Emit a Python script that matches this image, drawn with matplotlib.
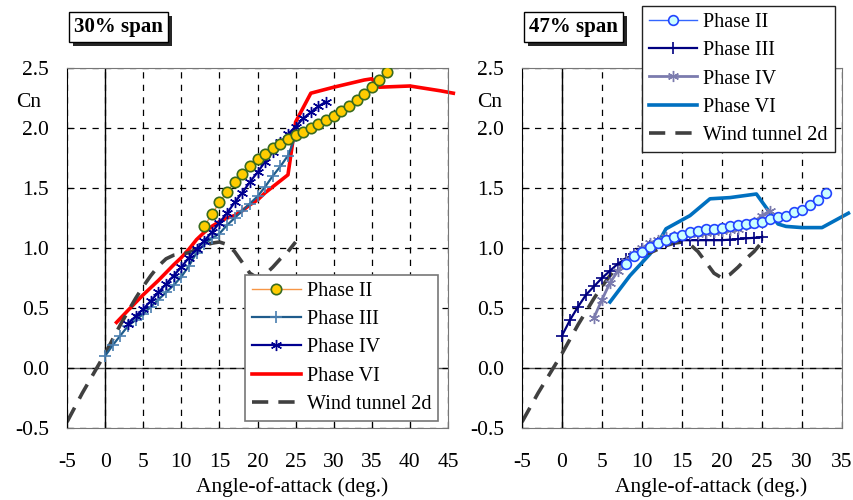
import numpy as np
import matplotlib.pyplot as plt
import matplotlib.patheffects as pe

plt.rcParams['font.family'] = ['Liberation Serif', 'DejaVu Serif']
plt.rcParams['axes.unicode_minus'] = False

# ---- 30% span data ----
l_p2_x = list(range(13, 38))
l_p2_y = [1.18, 1.28, 1.38, 1.47, 1.55, 1.62, 1.68, 1.74, 1.78, 1.83, 1.87, 1.91, 1.94,
          1.97, 2.00, 2.03, 2.07, 2.10, 2.14, 2.18, 2.23, 2.28, 2.34, 2.40, 2.47]

l_p3_x = list(range(0, 26))
l_p3_y = [0.10, 0.19, 0.27, 0.35, 0.40, 0.45, 0.51, 0.57, 0.63, 0.69, 0.76, 0.85, 0.96,
          1.03, 1.08, 1.12, 1.19, 1.25, 1.31, 1.37, 1.43, 1.51, 1.60, 1.68, 1.77, 1.93]

l_p4_x = list(range(3, 30))
l_p4_y = [0.37, 0.43, 0.49, 0.56, 0.63, 0.70, 0.77, 0.84, 0.92, 0.99, 1.06, 1.13, 1.21,
          1.29, 1.38, 1.46, 1.55, 1.63, 1.72, 1.80, 1.88, 1.95, 2.01, 2.08, 2.13, 2.18, 2.22]

l_p6_x = [1.5, 3, 5, 7, 9, 10, 11, 12, 13, 14, 15, 16, 17, 18, 19, 20, 21, 22, 23, 24,
          25, 27, 30, 32, 34, 35, 36, 38, 40, 42, 44, 45.7]
l_p6_y = [0.38, 0.48, 0.61, 0.73, 0.86, 0.92, 0.99, 1.07, 1.13, 1.18, 1.22, 1.25, 1.27,
          1.31, 1.36, 1.40, 1.46, 1.51, 1.56, 1.61, 2.05, 2.29, 2.34, 2.37, 2.40, 2.41,
          2.34, 2.345, 2.35, 2.33, 2.31, 2.29]

# ---- 47% span data ----
r_p2_x = list(range(8, 34))
r_p2_y = [0.87, 0.93, 0.97, 1.01, 1.04, 1.07, 1.09, 1.11, 1.13, 1.14, 1.16, 1.16, 1.17,
          1.18, 1.19, 1.20, 1.21, 1.22, 1.24, 1.26, 1.27, 1.30, 1.32, 1.36, 1.40, 1.46]

r_p3_x = list(range(0, 26))
r_p3_y = [0.27, 0.40, 0.51, 0.61, 0.68, 0.75, 0.81, 0.87, 0.91, 0.95, 0.99, 1.02, 1.04,
          1.05, 1.06, 1.065, 1.065, 1.065, 1.065, 1.065, 1.065, 1.07, 1.075, 1.08, 1.085, 1.09]

r_p4_x = list(range(4, 27))
r_p4_y = [0.42, 0.57, 0.71, 0.81, 0.89, 0.95, 1.00, 1.04, 1.07, 1.09, 1.10, 1.11, 1.115,
          1.12, 1.125, 1.13, 1.14, 1.15, 1.16, 1.19, 1.22, 1.27, 1.31]

r_p6_x = [6, 8.5, 11, 12.5, 13, 16, 18.5, 21, 24.3, 27, 28, 30, 32.5, 35.8]
r_p6_y = [0.55, 0.77, 0.95, 1.10, 1.16, 1.27, 1.41, 1.42, 1.45, 1.20, 1.18, 1.17, 1.17, 1.29]

# wind tunnel 2d (same airfoil for both)
wt_x = list(range(-5, 26))
wt_y = [-0.45, -0.33, -0.21, -0.10, 0.01, 0.12, 0.24, 0.36, 0.47, 0.58, 0.68, 0.77, 0.85,
        0.91, 0.94, 0.95, 0.96, 0.99, 1.02, 1.04, 1.05, 1.03, 0.97, 0.88, 0.79, 0.75, 0.78,
        0.84, 0.91, 0.97, 1.05]

asterisk = (6, 2, 0)

fig = plt.figure(figsize=(8.54, 5), dpi=100)
axL = fig.add_axes([67/854, 72/500, 381/854, 360/500])
axR = fig.add_axes([522/854, 72/500, 320/854, 360/500])


def frame(ax, xmax, title, tx):
    ax.set_xlim(-5, xmax)
    ax.set_ylim(-0.5, 2.5)
    ax.set_xticks(np.arange(-5, xmax + 1, 5))
    ax.set_yticks(np.arange(-0.5, 2.51, 0.5))
    ax.set_yticklabels(['%.1f' % v for v in np.arange(-0.5, 2.51, 0.5)])
    ax.tick_params(direction='in', length=5, labelsize=15.5, color='k')
    ax.tick_params(axis='x', pad=18)
    ax.tick_params(axis='y', pad=13)
    ax.grid(True, color='k', ls=(0, (5, 5)), lw=0.9)
    ax.axvline(0, color='k', lw=1, zorder=1)
    ax.axhline(0, color='#555555', lw=1, zorder=1)
    for s in ['top', 'right', 'bottom']:
        ax.spines[s].set_color('#777777')
    ax.spines['left'].set_color('k')
    ax.set_xlabel('Angle-of-attack (deg.)', fontsize=15.5)
    ax.xaxis.set_label_coords(0.59, -0.135)
    ax.text(-0.10, 0.905, 'Cn', transform=ax.transAxes, fontsize=15.5, ha='center', va='center')
    t = fig.text(tx, 0.946, title, fontsize=15, fontweight='bold', va='center', ha='left',
                 bbox=dict(boxstyle='square,pad=0.25', fc='white', ec='k', lw=1))
    t.get_bbox_patch().set_path_effects([pe.withSimplePatchShadow(offset=(3, -3),
                                                                  shadow_rgbFace='k', alpha=0.85)])


frame(axL, 45, '30% span', 74/854)
frame(axR, 35, '47% span', 529/854)

wt_style = dict(color='#404040', lw=2.6, dashes=(4.5, 2.8))
leg_style = dict(fontsize=14.5, frameon=True, fancybox=False, framealpha=1,
                 handlelength=2.4, handletextpad=0.3, labelspacing=0.45, borderpad=0.35,
                 borderaxespad=0)

# left
axL.plot(l_p2_x, l_p2_y, color='#F79646', lw=1, marker='o', ms=7.5, mfc='#FFCC00',
         mec='#3A6B1F', mew=1.2, label='Phase II', zorder=4)
axL.plot(l_p3_x, l_p3_y, color='#1F5C8C', lw=1.6, marker='+', ms=8, mew=1.2,
         mec='#4A7FB0', label='Phase III', zorder=3)
axL.plot(l_p4_x, l_p4_y, color='#000090', lw=1.6, marker=asterisk, ms=8, mew=1,
         label='Phase IV', zorder=3)
axL.plot(l_p6_x, l_p6_y, color='#FF0000', lw=2.6, label='Phase VI', zorder=2, clip_on=False)
axL.plot(wt_x, wt_y, label='Wind tunnel 2d', zorder=2, **wt_style)

legL = axL.legend(loc='lower right', bbox_to_anchor=(0.974, 0.02), edgecolor='#777777',
                  **leg_style)
legL.get_frame().set_linewidth(1.2)

# right
axR.plot(r_p2_x, r_p2_y, color='#3366FF', lw=1, marker='o', ms=7, mfc='#CCFFFF',
         mec='#2244FF', mew=1.2, label='Phase II', zorder=4)
axR.plot(r_p3_x, r_p3_y, color='#000080', lw=1.6, marker='+', ms=8, mew=1.2,
         label='Phase III', zorder=3)
axR.plot(r_p4_x, r_p4_y, color='#7B7BAE', lw=2, marker=asterisk, ms=8, mew=1,
         label='Phase IV', zorder=3)
axR.plot(r_p6_x, r_p6_y, color='#0070C0', lw=2.6, label='Phase VI', zorder=2, clip_on=False)
axR.plot(wt_x, wt_y, label='Wind tunnel 2d', zorder=2, **wt_style)

legR = axR.legend(loc='upper right', bbox_to_anchor=(0.978, 1.172), edgecolor='#222222',
                  **leg_style)
legR.get_frame().set_linewidth(1)

fig.savefig('out.png', dpi=100)
